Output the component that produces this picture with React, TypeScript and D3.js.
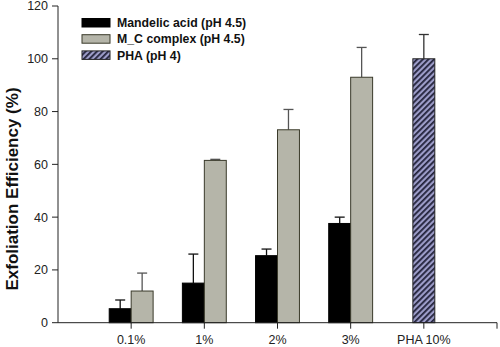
import React, { useEffect } from "react";
import * as d3 from "d3";

const categories = ["0.1%", "1%", "2%", "3%", "PHA 10%"];
const mandelic = [5.3, 15, 25.4, 37.6];
const mandelicErr = [8.6, 26, 27.9, 40];
const mcComplex = [12, 61.5, 73.1, 93];
const mcComplexErr = [18.8, 61.9, 80.8, 104.3];
const phaValue = [100];
const phaErr = [109.2];
const yTicks = [0, 20, 40, 60, 80, 100, 120];
const legendLabels = ["Mandelic acid (pH 4.5)", "M_C complex (pH 4.5)", "PHA (pH 4)"];

const W = 500, H = 347;
const font = "Arial, 'Liberation Sans', sans-serif";

export default function App() {
  useEffect(() => { document.body.style.margin = "0"; }, []);
  const x = d3.scaleLinear().domain([0, 6]).range([58, 497]);
  const y = d3.scaleLinear().domain([0, 120]).range([322.7, 6]);
  const bw = 0.3;
  const grayFill = "#b5b5a9";
  const grayStroke = "#3a3a2a";
  const cap = 5;

  const errBar = (cx: number, top: number, val: number, color: string, key: string) => (
    <g key={key} stroke={color} strokeWidth={1.3}>
      <line x1={cx} x2={cx} y1={y(val)} y2={y(top)} />
      <line x1={cx - cap} x2={cx + cap} y1={y(top)} y2={y(top)} />
    </g>
  );

  return (
    <svg width={W} height={H} style={{ display: "block" }} fontFamily={font}>
      <defs>
        <pattern id="hatch" patternUnits="userSpaceOnUse" width="4" height="4" patternTransform="rotate(45)">
          <rect width="4" height="4" fill="#9c9cc8" />
          <rect x="0" y="0" width="1.8" height="4" fill="#22223a" />
        </pattern>
      </defs>
      <rect width={W} height={H} fill="#fff" />

      {/* error bars (behind bars) */}
      {mandelic.map((v, i) => errBar(x(i + 1 - bw / 2), mandelicErr[i], v, "#111", "me" + i))}
      {mcComplex.map((v, i) => errBar(x(i + 1 + bw / 2), mcComplexErr[i], v, "#555", "ce" + i))}
      {phaValue.map((v, i) => errBar(x(5), phaErr[i], v, "#333", "pe" + i))}

      {/* bars */}
      {mandelic.map((v, i) => (
        <rect key={"m" + i} x={x(i + 1 - bw)} y={y(v)} width={x(bw) - x(0)} height={y(0) - y(v)}
          fill="#000" stroke="#000" strokeWidth={1} />
      ))}
      {mcComplex.map((v, i) => (
        <rect key={"c" + i} x={x(i + 1)} y={y(v)} width={x(bw) - x(0)} height={y(0) - y(v)}
          fill={grayFill} stroke={grayStroke} strokeWidth={1} />
      ))}
      {phaValue.map((v, i) => (
        <rect key={"p" + i} x={x(5 - bw / 2)} y={y(v)} width={x(bw) - x(0)} height={y(0) - y(v)}
          fill="url(#hatch)" stroke="#222" strokeWidth={1} />
      ))}

      {/* axes */}
      <g stroke="#222" strokeWidth={1}>
        <line x1={x(0)} x2={x(0)} y1={y(0)} y2={y(120)} />
        <line x1={x(0)} x2={x(6)} y1={y(0)} y2={y(0)} />
        {yTicks.map((t) => (
          <line key={"yt" + t} x1={x(0) - 6} x2={x(0)} y1={y(t)} y2={y(t)} />
        ))}
        {[1, 2, 3, 4, 5, 6].map((k) => (
          <line key={"xt" + k} x1={x(k)} x2={x(k)} y1={y(0)} y2={y(0) + 6} />
        ))}
      </g>
      {yTicks.map((t) => (
        <text key={"yl" + t} x={x(0) - 10} y={y(t)} dy="0.35em" textAnchor="end" fontSize={12.5} fill="#222">{t}</text>
      ))}
      {categories.map((c, i) => (
        <text key={"xl" + i} x={x(i + 1)} y={344} textAnchor="middle" fontSize={12.5} fill="#222">{c}</text>
      ))}
      <text transform={`translate(18,${(78 + 300) / 2}) rotate(-90)`} textAnchor="middle" fontSize={17} fontWeight="bold" fill="#111">
        Exfoliation Efficiency (%)
      </text>

      {/* legend */}
      {legendLabels.map((l, i) => {
        const yy = 18.5 + i * 16.2;
        const fill = i === 0 ? "#000" : i === 1 ? grayFill : "url(#hatch)";
        const st = i === 0 ? "#000" : i === 1 ? grayStroke : "#222";
        return (
          <g key={"lg" + i}>
            <rect x={82} y={yy} width={28} height={8.5} fill={fill} stroke={st} strokeWidth={1} />
            <text x={117} y={yy + 8.7} fontSize={12.3} fontWeight="bold" fill="#111">{l}</text>
          </g>
        );
      })}
    </svg>
  );
}
